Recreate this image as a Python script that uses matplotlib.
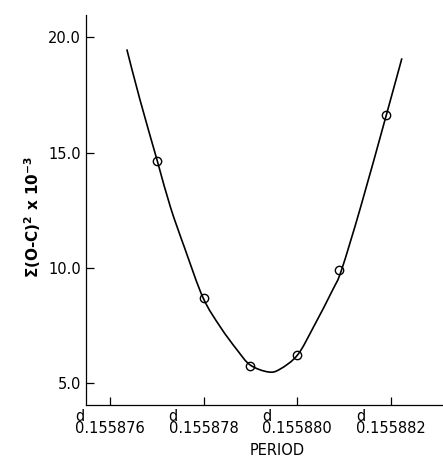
import numpy as np
import matplotlib
matplotlib.use('Agg')
import matplotlib.pyplot as plt
from matplotlib.path import Path
from matplotlib.patches import PathPatch

# измеренные точки (период, сумма квадратов O-C)
period_pts = [0.1558770, 0.1558780, 0.1558790, 0.1558800, 0.1558809, 0.1558819]
sum_pts = [14.65, 8.70, 5.74, 6.22, 9.91, 16.65]

# проведённая от руки кривая
period_curve = [0.15587636, 0.15587664, 0.15587701, 0.15587729, 0.15587761,
                0.15587799, 0.15587836, 0.15587872, 0.15587900, 0.15587939,
                0.15587964, 0.15588001, 0.15588035, 0.15588076, 0.15588095,
                0.15588136, 0.15588191, 0.15588224]
sum_curve = [19.48, 17.30, 14.65, 12.65, 10.78, 8.70, 7.43, 6.43,
             5.78, 5.48, 5.61, 6.22, 7.43, 9.04, 9.91, 12.65, 16.65, 19.09]

xticks = [0.155876, 0.155878, 0.155880, 0.155882]
xtick_labels = ['d\n0.155876', 'd\n0.155878', 'd\n0.155880', 'd\n0.155882']
yticks = [5.0, 10.0, 15.0, 20.0]
ytick_labels = ['5.0', '10.0', '15.0', '20.0']


# гладкая кривая: сплайн Катмулла-Рома -> кубические кривые Безье
def smooth_path(xs, ys):
    p = np.column_stack([xs, ys])
    verts = [p[0]]
    codes = [Path.MOVETO]
    for i in range(len(p) - 1):
        p0 = p[i - 1] if i > 0 else p[i]
        p3 = p[i + 2] if i + 2 < len(p) else p[i + 1]
        c1 = p[i] + (p[i + 1] - p0) / 6
        c2 = p[i + 1] - (p3 - p[i]) / 6
        verts += [c1, c2, p[i + 1]]
        codes += [Path.CURVE4] * 3
    return Path(verts, codes)


fig = plt.figure(figsize=(4.43, 4.62), dpi=100)
ax = fig.add_axes([0.194, 0.123, 0.804, 0.844])

ax.add_patch(PathPatch(smooth_path(period_curve, sum_curve),
                       facecolor='none', edgecolor='black', lw=1.2))
ax.plot(period_pts, sum_pts, 'o', ms=6, mfc='none', mec='black', mew=1.0)

ax.set_xlim(0.155875486, 0.1558831)
ax.set_ylim(4.04, 20.96)

ax.spines['top'].set_visible(False)
ax.spines['right'].set_visible(False)
for s in ['left', 'bottom']:
    ax.spines[s].set_linewidth(0.9)

ax.set_xticks(xticks)
ax.set_xticklabels(xtick_labels, fontsize=10.5, multialignment='left', linespacing=0.75)
ax.set_yticks(yticks)
ax.set_yticklabels(ytick_labels, fontsize=10.5)
ax.tick_params(axis='x', direction='in', length=6, width=0.9, pad=3)
ax.tick_params(axis='y', direction='in', length=6, width=0.9, pad=3.5)

ax.set_xlabel('PERIOD', fontsize=10.5)
ax.xaxis.set_label_coords(0.536, -0.097)
ax.set_ylabel(r'$\mathbf{\Sigma}$(O-C)$^\mathbf{2}$ x 10$^\mathbf{-3}$', fontsize=11, fontweight='bold')
ax.yaxis.set_label_coords(-0.12, 0.482)

fig.savefig('out.png', dpi=100)
